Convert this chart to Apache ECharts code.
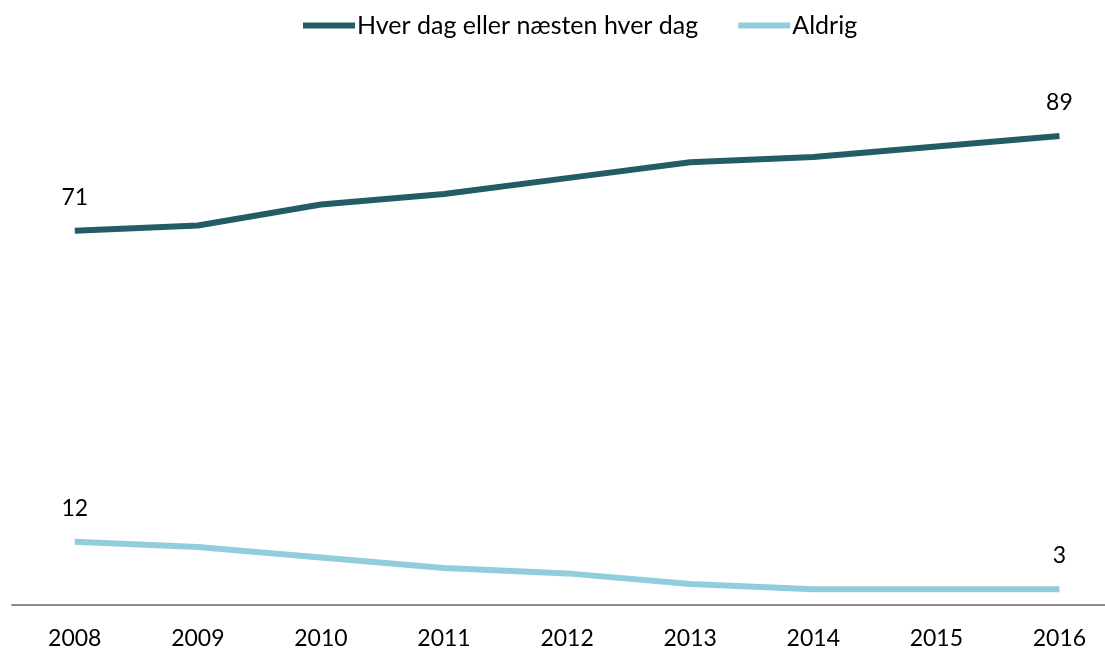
<!DOCTYPE html>
<html>
<head>
<meta charset="utf-8">
<script src="https://cdn.jsdelivr.net/npm/echarts@6/dist/echarts.min.js"></script>
<style>
  html, body { margin: 0; padding: 0; background: #fff; }
  #chart { width: 1105px; height: 650px; }
</style>
</head>
<body>
<div id="chart"></div>
<script>
// årstal og værdier (%)
const years = [2008, 2009, 2010, 2011, 2012, 2013, 2014, 2015, 2016];
const dagligt = [71, 72, 76, 78, 81, 84, 85, 87, 89];
const aldrig = [12, 11, 9, 7, 6, 4, 3, 3, 3];

const chart = echarts.init(document.getElementById("chart"));

// kun label på første og sidste punkt
const endLabel = (p) =>
  p.dataIndex === 0 || p.dataIndex === years.length - 1 ? p.value[1] : "";

const pairs = (vals) => years.map((y, i) => [y, vals[i]]);

const labelStyle = {
  show: true,
  position: "top",
  distance: 22,
  fontSize: 23,
  color: "#000",
  formatter: endLabel,
};

const option = {
  animation: false,
  textStyle: { fontFamily: "Lato, 'Open Sans', sans-serif" },
  legend: {
    top: 8,
    left: 298,
    itemWidth: 52,
    itemHeight: 6,
    itemGap: 40,
    icon: "rect",
    textStyle: { fontSize: 25, color: "#000", padding: [0, 0, 0, -3] },
    data: ["Hver dag eller næsten hver dag", "Aldrig"],
  },
  grid: {
    left: 12,
    right: 0,
    top: 78,
    bottom: 45,
  },
  xAxis: {
    type: "value",
    min: 2007.49,
    max: 2016.37,
    splitLine: { show: false },
    axisTick: { show: false },
    axisLine: { show: true, onZero: false, lineStyle: { color: "#8c8c8c", width: 2 } },
    axisLabel: {
      fontSize: 23,
      color: "#000",
      margin: 22,
      customValues: years,
      formatter: (v) => String(v),
    },
  },
  yAxis: {
    type: "value",
    min: 0,
    max: 100,
    show: false,
  },
  series: [
    {
      name: "Hver dag eller næsten hver dag",
      type: "line",
      data: pairs(dagligt),
      symbol: "circle",
      symbolSize: 0,
      lineStyle: { color: "#235c64", width: 6 },
      itemStyle: { color: "#235c64" },
      label: labelStyle,
    },
    {
      name: "Aldrig",
      type: "line",
      data: pairs(aldrig),
      symbol: "circle",
      symbolSize: 0,
      lineStyle: { color: "#92cddc", width: 6 },
      itemStyle: { color: "#92cddc" },
      label: labelStyle,
    },
  ],
};

chart.setOption(option);
window.addEventListener("resize", () => chart.resize());
</script>
</body>
</html>
